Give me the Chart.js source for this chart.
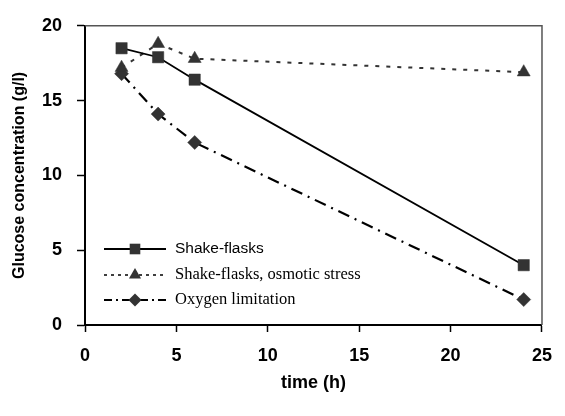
<!DOCTYPE html>
<html><head><meta charset="utf-8">
<script src="https://cdn.jsdelivr.net/npm/chart.js@4"></script>
<style>html,body{margin:0;padding:0;background:#fff}#wrap{width:565px;height:416px}</style>
</head>
<body><div id="wrap"><canvas id="c" width="565" height="416"></canvas></div>
<script>
const timeHours = [2, 4, 6, 24];
const shakeFlasks = [18.5, 17.9, 16.4, 4.0];
const osmoticStress = [17.2, 18.8, 17.8, 16.9];
const oxygenLimitation = [16.8, 14.1, 12.2, 1.7];
const seriesLabels = ['Shake-flasks', 'Shake-flasks, osmotic stress', 'Oxygen limitation'];
const xTickStep = 5, xMin = 0, xMax = 25;
const yTickStep = 5, yMin = 0, yMax = 20;
const xTitle = 'time (h)';
const yTitle = 'Glucose concentration (g/l)';

const toPts = vals => timeHours.map((t, i) => ({x: t, y: vals[i]}));
const tickFont = {family: '"Liberation Sans", Arial, sans-serif', size: 18, weight: 'bold'};
const yTitleFont = {family: '"Liberation Sans", Arial, sans-serif', size: 16, weight: 'bold'};

function drawMarker(ctx, style, x, y, r, color) {
  ctx.save();
  ctx.fillStyle = color;
  ctx.beginPath();
  if (style === 'rect') {
    const s = Math.SQRT1_2 * r;
    ctx.rect(x - s, y - s, 2 * s, 2 * s);
  } else if (style === 'triangle') {
    ctx.moveTo(x, y - r);
    ctx.lineTo(x + r * Math.sin(Math.PI / 3), y + r / 2);
    ctx.lineTo(x - r * Math.sin(Math.PI / 3), y + r / 2);
    ctx.closePath();
  } else {
    ctx.moveTo(x, y - r); ctx.lineTo(x + r, y); ctx.lineTo(x, y + r); ctx.lineTo(x - r, y); ctx.closePath();
  }
  ctx.fill();
  ctx.restore();
}

const legendSpec = [
  {dash: [], width: 1.8, font: '15.5px "Liberation Sans", Arial, sans-serif', marker: 'rect', r: 7.5},
  {dash: [3, 4], width: 1.6, font: '16.5px "Liberation Serif", "Times New Roman", serif', marker: 'triangle', r: 7},
  {dash: [8, 4, 2, 4], width: 2.2, font: '16.5px "Liberation Serif", "Times New Roman", serif', marker: 'diamond', r: 6.5}
];

const framePlugin = {
  id: 'frame',
  beforeDatasetsDraw(chart) {
    const {ctx, chartArea: a} = chart;
    ctx.save();
    ctx.strokeStyle = '#555';
    ctx.lineWidth = 1.5;
    ctx.beginPath();
    ctx.moveTo(a.left, a.top); ctx.lineTo(a.right, a.top); ctx.lineTo(a.right, a.bottom);
    ctx.stroke();
    ctx.restore();
  },
  afterDatasetsDraw(chart) {
    const {ctx} = chart;
    const x0 = 104, x1 = 166, xm = 135, tx = 175;
    const rows = [249, 275, 300];
    chart.data.datasets.forEach((ds, i) => {
      const sp = legendSpec[i];
      const y = rows[i];
      ctx.save();
      ctx.strokeStyle = '#000';
      ctx.lineWidth = sp.width;
      ctx.setLineDash(sp.dash);
      ctx.beginPath(); ctx.moveTo(x0, y); ctx.lineTo(x1, y); ctx.stroke();
      ctx.restore();
      drawMarker(ctx, sp.marker, xm, y, sp.r, '#333');
      ctx.save();
      ctx.fillStyle = '#000';
      ctx.font = sp.font;
      ctx.textBaseline = 'middle';
      ctx.fillText(ds.label, tx, y);
      ctx.restore();
    });
  }
};

new Chart(document.getElementById('c'), {
  type: 'line',
  data: {
    datasets: [
      {label: seriesLabels[0], data: toPts(shakeFlasks), borderColor: '#000', borderWidth: 1.8,
       pointStyle: 'rect', pointRadius: 8, pointBackgroundColor: '#333', pointBorderColor: '#333', pointBorderWidth: 0.5, clip: false},
      {label: seriesLabels[1], data: toPts(osmoticStress), borderColor: '#333', borderWidth: 2, borderDash: [4, 7],
       pointStyle: 'triangle', pointRadius: 7.5, pointBackgroundColor: '#333', pointBorderColor: '#333', pointBorderWidth: 0.5, clip: false},
      {label: seriesLabels[2], data: toPts(oxygenLimitation), borderColor: '#000', borderWidth: 2.2, borderDash: [12, 6, 2, 6],
       pointStyle: 'rectRot', pointRadius: 7, pointBackgroundColor: '#333', pointBorderColor: '#333', pointBorderWidth: 0.5, clip: false}
    ]
  },
  options: {
    responsive: false,
    animation: false,
    events: [],
    layout: {padding: {top: 22, right: 11, left: 0, bottom: 0}},
    plugins: {legend: {display: false}, tooltip: {enabled: false}},
    scales: {
      x: {
        type: 'linear', min: xMin, max: xMax,
        ticks: {stepSize: xTickStep, font: tickFont, color: '#000', padding: 13},
        grid: {drawOnChartArea: false, drawTicks: true, tickLength: 7, color: '#000', tickWidth: 1.5},
        border: {display: true, color: '#000', width: 2},
        title: {display: true, text: xTitle, font: tickFont, color: '#000', padding: {top: 0, bottom: 22}},
        afterFit(s) { s.height = 91; }
      },
      y: {
        type: 'linear', min: yMin, max: yMax,
        ticks: {stepSize: yTickStep, font: tickFont, color: '#000', padding: 15},
        grid: {drawOnChartArea: false, drawTicks: true, tickLength: 8, color: '#000', tickWidth: 1.5},
        border: {display: true, color: '#000', width: 2},
        title: {display: true, text: yTitle, font: yTitleFont, color: '#000', padding: {top: 10, bottom: 0}},
        afterFit(s) { s.width = 85; }
      }
    }
  },
  plugins: [framePlugin]
});
</script>
</body></html>
